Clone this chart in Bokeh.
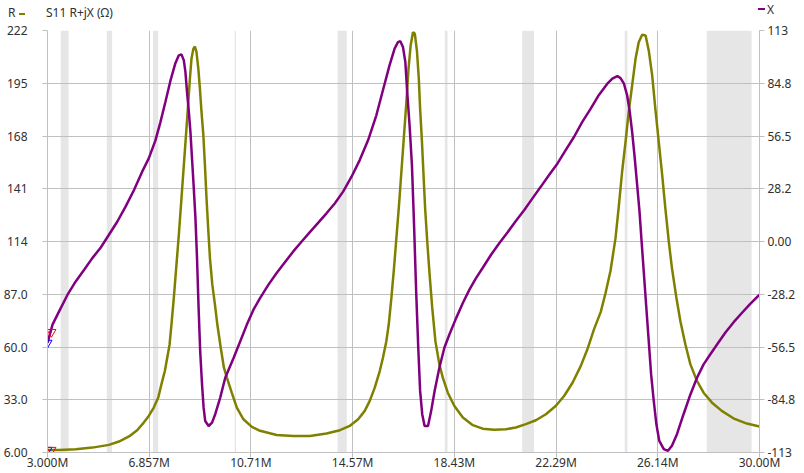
from bokeh.plotting import figure
from bokeh.layouts import column
from bokeh.models import Range1d, LinearAxis, FixedTicker, Div
from bokeh.embed import file_html
from bokeh.resources import INLINE

# ---------------- data ----------------
freq_x = [3.00, 3.19, 3.44, 3.76, 4.07, 4.39, 4.70, 5.02, 5.33, 5.65, 5.96, 6.28, 6.59, 6.84,
          7.09, 7.28, 7.47, 7.66, 7.85, 7.98, 8.08, 8.17, 8.23, 8.29, 8.36, 8.42, 8.48, 8.54,
          8.61, 8.67, 8.73, 8.79, 8.86, 8.92, 8.98, 9.11, 9.24, 9.36, 9.55, 9.74, 10.06, 10.31,
          10.56, 10.81, 11.06, 11.38, 11.69, 12.01, 12.32, 12.64, 12.95, 13.27, 13.58, 13.90,
          14.21, 14.53, 14.84, 15.16, 15.47, 15.72, 15.97, 16.16, 16.29, 16.38, 16.48, 16.57,
          16.64, 16.73, 16.82, 16.90, 16.98, 17.06, 17.13, 17.21, 17.30, 17.43, 17.55, 17.68,
          17.86, 18.05, 18.24, 18.50, 18.75, 19.00, 19.25, 19.50, 19.82, 20.13, 20.45, 20.76,
          21.08, 21.39, 21.71, 22.02, 22.34, 22.65, 22.97, 23.28, 23.60, 23.91, 24.23, 24.42,
          24.61, 24.73, 24.86, 24.98, 25.08, 25.17, 25.27, 25.36, 25.45, 25.52, 25.61, 25.70,
          25.80, 25.89, 25.99, 26.09, 26.20, 26.37, 26.53, 26.68, 26.87, 27.12, 27.38, 27.63,
          27.88, 28.13, 28.39, 28.70, 29.02, 29.33, 29.64, 30.00]
x_vals = [-54.3, -44.5, -37.4, -28.5, -21.4, -15.1, -8.9, -3.2, 3.6, 10.7, 18.7, 27.6, 37.4, 44.5,
          54.0, 63.8, 74.7, 86.0, 95.5, 99.7, 100.2, 97.0, 90.8, 80.1, 69.4, 58.7, 44.5, 30.3,
          12.5, -8.9, -35.6, -58.7, -76.5, -89.0, -96.1, -98.8, -97.0, -92.5, -83.6, -73.0, -62.3, -53.4,
          -44.5, -36.5, -30.3, -23.1, -16.9, -11.0, -5.3, 0.0, 5.0, 10.1, 15.1, 20.5,
          26.7, 34.7, 43.6, 54.3, 67.6, 81.0, 94.3, 103.2, 106.8, 107.3, 104.1, 96.1,
          80.1, 62.3, 40.9, 8.9, -26.7, -57.0, -80.0, -92.5, -98.8, -98.8, -90.7, -80.1,
          -67.6, -56.9, -49.8, -40.9, -32.9, -25.8, -19.6, -14.2, -7.1, -0.9, 5.0, 11.0,
          16.9, 23.1, 29.4, 35.6, 41.8, 48.9, 56.1, 64.1, 71.2, 78.5, 84.5, 87.2,
          88.6, 87.5, 84.5, 78.3, 69.4, 58.7, 44.5, 30.3, 16.0, 1.8, -16.0, -33.8,
          -53.4, -71.2, -85.4, -97.9, -106.8, -111.2, -112.1, -109.4, -103.2, -92.5, -81.9, -73.0,
          -65.8, -60.5, -55.2, -48.9, -43.2, -38.3, -33.5, -28.5]

freq_r = [3.00, 3.44, 4.07, 4.70, 5.33, 5.71, 6.09, 6.40, 6.65, 6.84, 7.03, 7.20, 7.32, 7.45,
          7.54, 7.63, 7.70, 7.79, 7.88, 7.98, 8.08, 8.17, 8.26, 8.34, 8.40, 8.46, 8.53, 8.59,
          8.65, 8.72, 8.78, 8.84, 8.91, 8.97, 9.03, 9.10, 9.16, 9.25, 9.35, 9.44, 9.57, 9.69,
          9.80, 9.99, 10.18, 10.43, 10.75, 11.06, 11.69, 12.32, 12.95, 13.58, 14.09, 14.46,
          14.78, 15.03, 15.22, 15.41, 15.60, 15.72, 15.85, 15.94, 16.04, 16.14, 16.23, 16.33,
          16.42, 16.51, 16.61, 16.69, 16.77, 16.86, 16.93, 17.01, 17.08, 17.13, 17.20, 17.26,
          17.32, 17.40, 17.49, 17.59, 17.71, 17.86, 17.99, 18.18, 18.43, 18.75, 19.13, 19.50,
          19.94, 20.38, 20.76, 21.14, 21.52, 21.90, 22.27, 22.59, 22.91, 23.22, 23.47, 23.72,
          23.98, 24.16, 24.35, 24.54, 24.67, 24.79, 24.92, 25.04, 25.17, 25.30, 25.42, 25.55,
          25.68, 25.80, 25.93, 26.05, 26.18, 26.31, 26.43, 26.56, 26.68, 26.85, 27.00, 27.19,
          27.38, 27.63, 27.88, 28.20, 28.57, 29.01, 29.52, 30.00]
r_vals = [7.3, 7.3, 7.7, 8.5, 9.9, 11.6, 14.2, 17.4, 21.3, 24.7, 29.0, 34.1, 40.9, 47.7,
          54.5, 61.3, 71.5, 85.1, 100.4, 117.4, 136.1, 153.1, 170.1, 185.4, 197.3, 207.5, 212.6, 213.8,
          210.9, 202.4, 192.2, 180.3, 168.4, 153.1, 136.1, 119.1, 105.5, 91.9, 81.7, 71.5, 59.6, 49.4,
          44.5, 36.5, 29.0, 23.0, 19.1, 17.1, 15.0, 14.5, 14.5, 15.7, 17.4, 19.6,
          23.0, 27.3, 32.4, 39.2, 47.7, 54.5, 63.0, 71.5, 85.1, 100.4, 115.7, 132.7,
          149.7, 166.7, 185.4, 202.4, 214.3, 221.1, 220.3, 211.5, 197.5, 182.0, 165.0, 148.0,
          131.0, 114.0, 97.0, 80.0, 63.0, 51.1, 44.3, 36.6, 29.8, 23.9, 20.0, 18.2,
          17.6, 17.9, 18.8, 20.5, 22.5, 25.6, 29.8, 34.9, 41.7, 50.2, 58.7, 68.9,
          78.0, 87.5, 99.0, 115.7, 132.7, 149.7, 165.0, 180.3, 193.9, 207.5, 216.0, 219.8,
          219.4, 211.8, 199.0, 182.0, 165.0, 148.0, 131.0, 114.0, 100.4, 85.1, 73.2, 61.3,
          51.1, 42.6, 36.6, 31.5, 27.3, 23.5, 20.8, 19.3]

band_lo = [3.5, 5.25, 7.0, 10.1, 14.0, 18.068, 21.0, 24.89, 28.0]
band_hi = [3.8, 5.45, 7.2, 10.15, 14.35, 18.168, 21.45, 24.99, 29.7]

marker_freq = [3.00, 3.15]
marker_r = [7.3, 7.3]
marker_x = [-54.3, -48.5]
marker_colors = ["#0000ff", "#ff0000"]

x_ticks = [3 + i * 27 / 7 for i in range(8)]
x_tick_labels = ["3.000M", "6.857M", "10.71M", "14.57M", "18.43M", "22.29M", "26.14M", "30.00M"]
r_ticks = [6, 33, 60, 87, 114, 141, 168, 195, 222]
r_tick_labels = ["6.00", "33.0", "60.0", "87.0", "114", "141", "168", "195", "222"]
xr_ticks = [-113, -84.75, -56.5, -28.25, 0, 28.25, 56.5, 84.75, 113]
xr_tick_labels = ["-113", "-84.8", "-56.5", "-28.2", "0.00", "28.2", "56.5", "84.8", "113"]

title_text = "S11 R+jX (\u03a9)"
r_name = "R"
x_name = "X"

# ---------------- styling ----------------
FONT = "Noto Sans"
TXT = "#303030"
GRID = "#c0c0c0"
OLIVE = "#808000"
PURPLE = "#800080"

span = "position:absolute;white-space:nowrap;line-height:16px;"
header_html = (
    f'<div style="position:relative;width:804px;height:22px;font-family:\'{FONT}\';'
    f'font-size:12px;color:{TXT};background:white;">'
    f'<span style="{span}left:8px;top:5px;">{r_name}</span>'
    f'<span style="position:absolute;left:19px;top:13px;width:6px;height:2px;background:{OLIVE};"></span>'
    f'<span style="{span}left:46px;top:5px;">{title_text}</span>'
    f'<span style="position:absolute;left:758px;top:8px;width:7px;height:2px;background:{PURPLE};"></span>'
    f'<span style="{span}left:767px;top:2px;">{x_name}</span>'
    '</div>'
)
hdr = Div(text=header_html, width=804, height=22, margin=0)

p = figure(width=804, height=451, output_backend="svg", toolbar_location=None,
           x_range=Range1d(3, 30), y_range=Range1d(6, 222),
           min_border_left=45, min_border_right=45, min_border_top=8, min_border_bottom=20)
p.extra_y_ranges = {"xr": Range1d(-113, 113)}
p.outline_line_color = None
p.background_fill_color = "white"
p.border_fill_color = "white"

p.quad(left=band_lo, right=band_hi, bottom=6, top=222, fill_color="#e6e6e6",
       line_color=None, level="image")

p.line(freq_r, r_vals, line_color=OLIVE, line_width=2.5)
p.line(freq_x, x_vals, line_color=PURPLE, line_width=2.5, y_range_name="xr")

p.scatter(marker_freq, marker_x, marker="inverted_triangle", size=9, fill_color=None,
          line_color=marker_colors, line_width=1, y_range_name="xr")
p.scatter(marker_freq, marker_r, marker="inverted_triangle", size=9, fill_color=None,
          line_color=marker_colors, line_width=1)

right_axis = LinearAxis(y_range_name="xr")
p.add_layout(right_axis, "right")

p.xaxis.ticker = FixedTicker(ticks=x_ticks)
p.xaxis.major_label_overrides = dict(zip(x_ticks, x_tick_labels))
p.yaxis[0].ticker = FixedTicker(ticks=r_ticks)
p.yaxis[0].major_label_overrides = dict(zip(r_ticks, r_tick_labels))
right_axis.ticker = FixedTicker(ticks=xr_ticks)
right_axis.major_label_overrides = dict(zip(xr_ticks, xr_tick_labels))

for ax in [p.xaxis[0], p.yaxis[0], right_axis]:
    ax.axis_line_color = GRID
    ax.major_tick_line_color = GRID
    ax.major_tick_in = 0
    ax.major_tick_out = 5
    ax.minor_tick_line_color = None
    ax.major_label_text_font = FONT
    ax.major_label_text_font_size = "12px"
    ax.major_label_text_color = TXT
p.xaxis.major_label_standoff = -4
p.yaxis[0].major_label_standoff = 15
right_axis.major_label_standoff = 3

p.xgrid.ticker = FixedTicker(ticks=x_ticks)
p.ygrid.ticker = FixedTicker(ticks=r_ticks)
p.grid.grid_line_color = GRID
p.grid.grid_line_width = 1

layout = column(hdr, p, spacing=0)
open("out.html", "w").write(file_html(layout, INLINE))
